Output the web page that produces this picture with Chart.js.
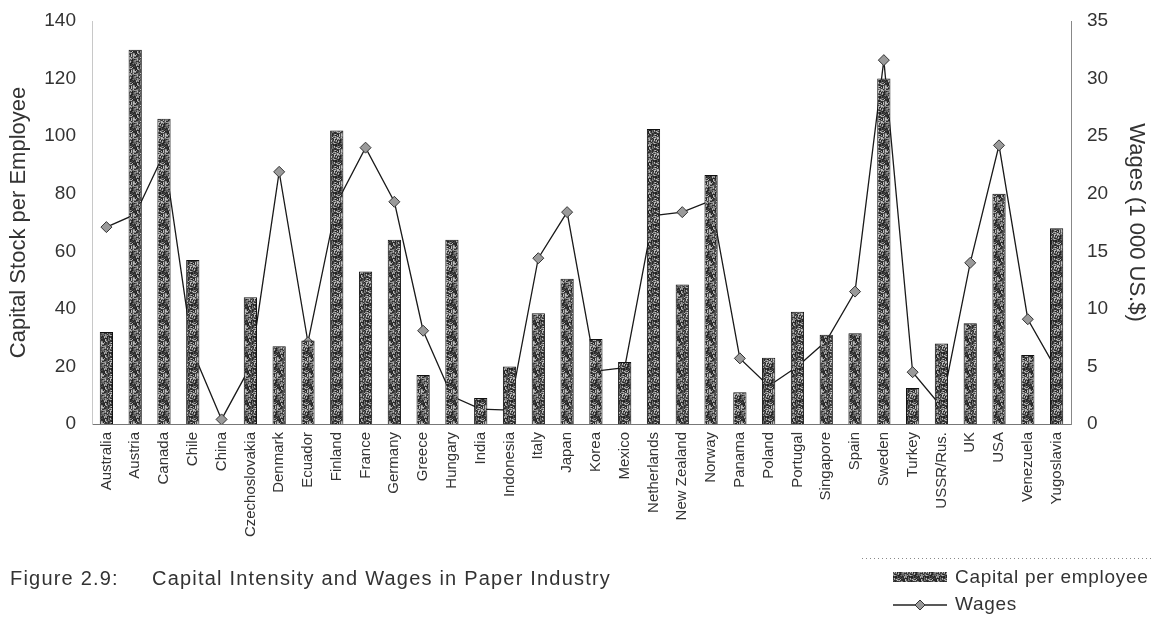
<!DOCTYPE html>
<html>
<head>
<meta charset="utf-8">
<script src="https://cdn.jsdelivr.net/npm/chart.js@4/dist/chart.umd.min.js"></script>
<style>
    html, body { margin: 0; padding: 0; background: #fff; }
    #grafico { display: block; }
</style>
</head>
<body>
<canvas id="grafico" width="1155" height="627"></canvas>
<script>
const paises = ['Australia', 'Austria', 'Canada', 'Chile', 'China', 'Czechoslovakia', 'Denmark', 'Ecuador',
    'Finland', 'France', 'Germany', 'Greece', 'Hungary', 'India', 'Indonesia', 'Italy', 'Japan', 'Korea',
    'Mexico', 'Netherlands', 'New Zealand', 'Norway', 'Panama', 'Poland', 'Portugal', 'Singapore', 'Spain',
    'Sweden', 'Turkey', 'USSR/Rus.', 'UK', 'USA', 'Venezuela', 'Yugoslavia'];

// capital por empleado (eje izquierdo)
const capital = [32, 130, 106, 57, 0, 44, 27, 29, 102, 53, 64, 17, 64, 9, 20, 38.5, 50.5, 29.5,
    21.5, 102.5, 48.5, 86.5, 11, 23, 39, 31, 31.5, 120, 12.5, 28, 35, 80, 24, 68];

// salarios en miles de US$ (eje derecho)
const salarios = [17.1, 18.2, 23.5, 6.3, 0.4, 5, 21.9, 7.1, 19.2, 24, 19.3, 8.1, 2.4, 1.3, 1.2, 14.4,
    18.4, 4.6, 4.9, 18.1, 18.4, 19.4, 5.7, 3.3, 5, 7.2, 11.5, 31.6, 4.5, 1.5, 14, 24.2, 9.1, 4.7];

const ticksCapital = { min: 0, max: 140, paso: 20 };
const ticksSalarios = { min: 0, max: 35, paso: 5 };

// textura punteada de las barras (hash entero fijo, no aleatorio)
function crearTextura() {
    let n = 16;
    let c = document.createElement('canvas');
    c.width = n;
    c.height = n;
    let cx = c.getContext('2d');
    let tonos = ['#222222', '#3a3a3a', '#4c4c4c', '#606060', '#7a7a7a', '#989898', '#bdbdbd', '#2e2e2e'];
    for (let y = 0; y < n; y++) {
        for (let x = 0; x < n; x++) {
            let h = ((x * 374761393) ^ (y * 668265263)) >>> 0;
            h = ((h ^ (h >>> 13)) * 1274126177) >>> 0;
            cx.fillStyle = tonos[(h >>> 8) % tonos.length];
            cx.fillRect(x, y, 1, 1);
        }
    }
    return cx.createPattern(c, 'repeat');
}

let canvas = document.getElementById('grafico');
let ctx = canvas.getContext('2d');
let textura = crearTextura();

const fuente = '"Liberation Sans", Arial, sans-serif';
const gris = '#333333';

let piePlugin = {
    id: 'pie',
    afterDraw(chart) {
        let c = chart.ctx;
        c.save();
        c.fillStyle = gris;
        c.textBaseline = 'middle';
        c.font = '20px ' + fuente;
        c.letterSpacing = '1.2px';
        c.fillText('Figure 2.9:', 10, 579);
        c.fillText('Capital Intensity and Wages in Paper Industry', 152, 579);

        // linea punteada sobre la leyenda
        c.letterSpacing = '0px';
        c.strokeStyle = '#888';
        c.lineWidth = 1;
        c.setLineDash([1, 3]);
        c.beginPath();
        c.moveTo(862, 558.5);
        c.lineTo(1152, 558.5);
        c.stroke();
        c.setLineDash([]);

        // barra
        c.fillStyle = textura;
        c.fillRect(893, 572, 54, 10);
        c.fillStyle = gris;
        c.font = '19px ' + fuente;
        c.letterSpacing = '0.7px';
        c.fillText('Capital per employee', 955, 578);

        // linea con rombo
        c.strokeStyle = '#222';
        c.lineWidth = 1.3;
        c.beginPath();
        c.moveTo(893, 605);
        c.lineTo(947, 605);
        c.stroke();
        c.fillStyle = '#9a9a9a';
        c.strokeStyle = '#333';
        c.lineWidth = 1;
        c.beginPath();
        c.moveTo(920, 600);
        c.lineTo(925, 605);
        c.lineTo(920, 610);
        c.lineTo(915, 605);
        c.closePath();
        c.fill();
        c.stroke();
        c.fillStyle = gris;
        c.fillText('Wages', 955, 605);
        c.restore();
    }
};

// ancho fijo y sin relleno extra arriba/abajo para clavar el area del grafico
function fijarAncho(ancho) {
    return s => {
        s.width = ancho;
        s.paddingTop = 0;
        s.paddingBottom = 0;
    };
}

let config = {
    data: {
        labels: paises,
        datasets: [
            {
                type: 'bar',
                label: 'Capital per employee',
                data: capital,
                yAxisID: 'y',
                backgroundColor: textura,
                borderColor: '#111',
                borderWidth: 1,
                categoryPercentage: 1,
                barPercentage: 0.46,
                order: 0
            },
            {
                type: 'line',
                label: 'Wages',
                data: salarios,
                yAxisID: 'y1',
                borderColor: '#1a1a1a',
                borderWidth: 1.3,
                pointStyle: 'rectRot',
                pointRadius: 5.5,
                pointBackgroundColor: '#9a9a9a',
                pointBorderColor: '#333',
                pointBorderWidth: 1,
                tension: 0,
                order: 1
            }
        ]
    },
    options: {
        responsive: false,
        animation: false,
        layout: { padding: { top: 21, left: 0, right: 0, bottom: 0 } },
        plugins: {
            legend: { display: false },
            title: { display: false },
            tooltip: { enabled: false }
        },
        scales: {
            x: {
                afterFit: s => {
                    s.height = 203;
                    s.paddingLeft = 0;
                    s.paddingRight = 0;
                },
                grid: { display: false, drawTicks: false },
                border: { display: true, color: '#777', dash: [1, 3] },
                ticks: {
                    color: gris,
                    font: { family: fuente, size: 15 },
                    minRotation: 90,
                    maxRotation: 90,
                    autoSkip: false,
                    padding: 8
                }
            },
            y: {
                position: 'left',
                min: ticksCapital.min,
                max: ticksCapital.max,
                afterFit: fijarAncho(92),
                grid: { display: false, drawTicks: false },
                border: { display: true, color: '#c8c8c8', dash: [1, 9] },
                ticks: {
                    stepSize: ticksCapital.paso,
                    color: gris,
                    font: { family: fuente, size: 19 },
                    padding: 16
                },
                title: {
                    display: true,
                    text: 'Capital Stock per Employee',
                    color: gris,
                    font: { family: fuente, size: 22 },
                    padding: { top: 6, bottom: 0 }
                }
            },
            y1: {
                position: 'right',
                min: ticksSalarios.min,
                max: ticksSalarios.max,
                afterFit: fijarAncho(84),
                grid: { display: false, drawTicks: false },
                border: { display: true, color: '#888', dash: [1, 3] },
                ticks: {
                    stepSize: ticksSalarios.paso,
                    color: gris,
                    font: { family: fuente, size: 19 },
                    padding: 16
                },
                title: {
                    display: true,
                    text: 'Wages (1 000 US.$)',
                    color: gris,
                    font: { family: fuente, size: 22 },
                    padding: { top: 6, bottom: 0 }
                }
            }
        }
    },
    plugins: [piePlugin]
};

let graficoChartJS = new Chart(ctx, config);
</script>
</body>
</html>
